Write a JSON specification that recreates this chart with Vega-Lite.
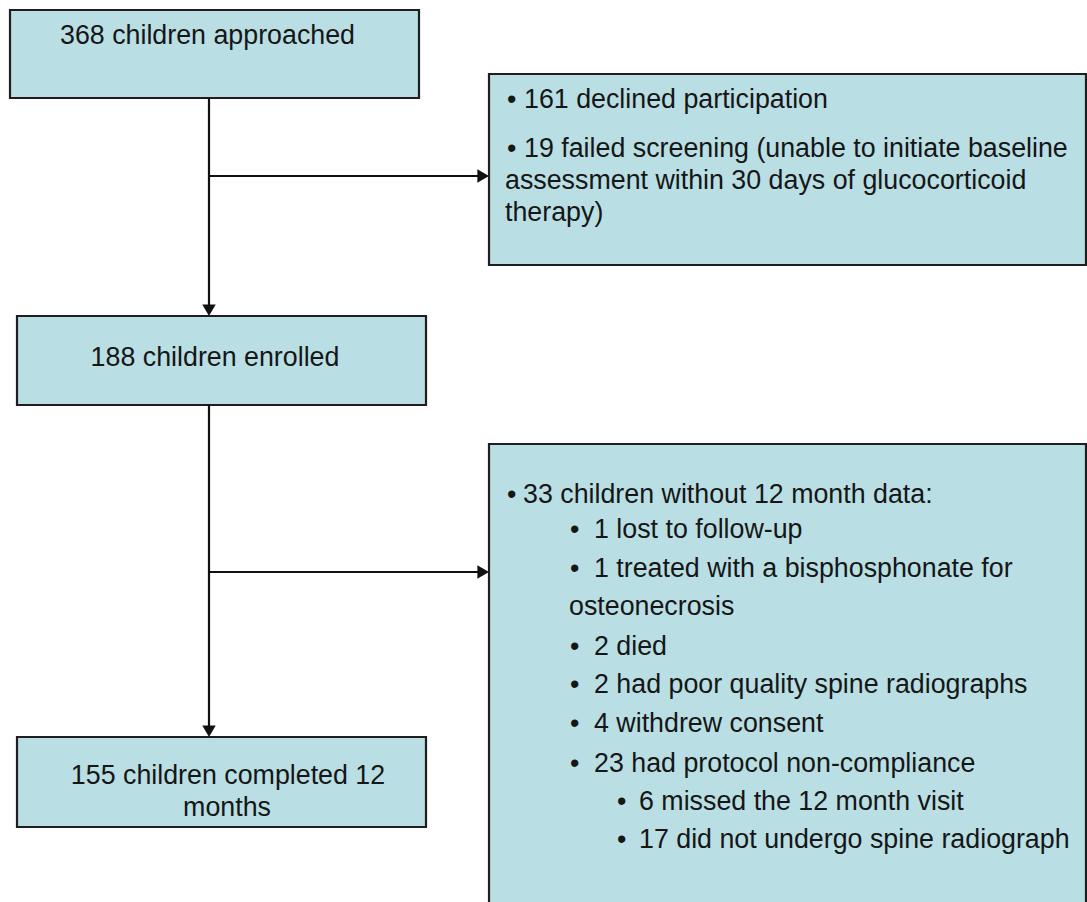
{
  "$schema": "https://vega.github.io/schema/vega-lite/v6.json",
  "width": 1087,
  "height": 902,
  "padding": 0,
  "autosize": {"type": "none"},
  "background": "white",
  "config": {
    "view": {"stroke": null},
    "text": {"font": "Liberation Sans", "fontSize": 26.8, "color": "#161616", "baseline": "alphabetic"}
  },
  "datasets": {
    "boxes": [
      {"id": "approached", "x0": 10, "x1": 419, "y0": 10, "y1": 98},
      {"id": "excluded", "x0": 489, "x1": 1086, "y0": 74, "y1": 265},
      {"id": "enrolled", "x0": 17, "x1": 426, "y0": 316, "y1": 405},
      {"id": "missing", "x0": 489, "x1": 1086, "y0": 444, "y1": 910},
      {"id": "completed", "x0": 17, "x1": 426, "y0": 737, "y1": 827}
    ],
    "connectors": [
      {"x0": 209, "y0": 98, "x1": 209, "y1": 307},
      {"x0": 209, "y0": 176, "x1": 480, "y1": 176},
      {"x0": 209, "y0": 405, "x1": 209, "y1": 728},
      {"x0": 209, "y0": 572, "x1": 480, "y1": 572}
    ],
    "arrows": [
      {"x": 209, "y": 310.2, "dir": "down"},
      {"x": 483.2, "y": 176, "dir": "right"},
      {"x": 209, "y": 731.2, "dir": "down"},
      {"x": 483.2, "y": 572, "dir": "right"}
    ],
    "labels": [
      {"role": "title", "x": 207.5, "y": 44, "text": "368 children approached"},
      {"role": "title", "x": 215, "y": 366, "text": "188 children enrolled"},
      {"role": "title", "x": 228, "y": 784, "text": "155 children completed 12"},
      {"role": "title", "x": 227, "y": 816, "text": "months"},
      {"role": "item", "x": 507, "y": 108, "text": "•"},
      {"role": "item", "x": 524, "y": 108, "text": "161 declined participation"},
      {"role": "item", "x": 507, "y": 157, "text": "•"},
      {"role": "item", "x": 524, "y": 157, "text": "19 failed screening (unable to initiate baseline"},
      {"role": "item", "x": 505, "y": 189, "text": "assessment within 30 days of glucocorticoid"},
      {"role": "item", "x": 505, "y": 221, "text": "therapy)"},
      {"role": "item", "x": 507, "y": 503, "text": "•"},
      {"role": "item", "x": 523, "y": 503, "text": "33 children without 12 month data:"},
      {"role": "item", "x": 570, "y": 538, "text": "•"},
      {"role": "item", "x": 594, "y": 538, "text": "1 lost to follow-up"},
      {"role": "item", "x": 570, "y": 577, "text": "•"},
      {"role": "item", "x": 594, "y": 577, "text": "1 treated with a bisphosphonate for"},
      {"role": "item", "x": 569, "y": 615, "text": "osteonecrosis"},
      {"role": "item", "x": 570, "y": 655, "text": "•"},
      {"role": "item", "x": 594, "y": 655, "text": "2 died"},
      {"role": "item", "x": 570, "y": 693, "text": "•"},
      {"role": "item", "x": 594, "y": 693, "text": "2 had poor quality spine radiographs"},
      {"role": "item", "x": 570, "y": 732, "text": "•"},
      {"role": "item", "x": 594, "y": 732, "text": "4 withdrew consent"},
      {"role": "item", "x": 570, "y": 772, "text": "•"},
      {"role": "item", "x": 594, "y": 772, "text": "23 had protocol non-compliance"},
      {"role": "item", "x": 617, "y": 810, "text": "•"},
      {"role": "item", "x": 639, "y": 810, "text": "6 missed the 12 month visit"},
      {"role": "item", "x": 617, "y": 848, "text": "•"},
      {"role": "item", "x": 639, "y": 848, "text": "17 did not undergo spine radiograph"}
    ]
  },
  "layer": [
    {
      "data": {"name": "boxes"},
      "mark": {"type": "rect", "fill": "#B9DFE4", "stroke": "#1e1e1e", "strokeWidth": 2.2},
      "encoding": {
        "x": {"field": "x0", "type": "quantitative", "scale": {"domain": [0, 1087], "nice": false, "zero": false}, "axis": null},
        "x2": {"field": "x1"},
        "y": {"field": "y0", "type": "quantitative", "scale": {"domain": [0, 902], "nice": false, "zero": false, "reverse": true}, "axis": null},
        "y2": {"field": "y1"}
      }
    },
    {
      "data": {"name": "connectors"},
      "mark": {"type": "rule", "color": "#111111", "strokeWidth": 2.2},
      "encoding": {
        "x": {"field": "x0", "type": "quantitative"},
        "x2": {"field": "x1"},
        "y": {"field": "y0", "type": "quantitative"},
        "y2": {"field": "y1"}
      }
    },
    {
      "data": {"name": "arrows"},
      "mark": {"type": "point", "filled": true, "color": "#111111", "opacity": 1, "size": 180, "strokeWidth": 0},
      "encoding": {
        "x": {"field": "x", "type": "quantitative"},
        "y": {"field": "y", "type": "quantitative"},
        "shape": {"field": "dir", "type": "nominal", "scale": {"domain": ["down", "right"], "range": ["triangle-down", "triangle-right"]}, "legend": null}
      }
    },
    {
      "data": {"name": "labels"},
      "transform": [{"filter": "datum.role === 'title'"}],
      "mark": {"type": "text", "align": "center"},
      "encoding": {
        "x": {"field": "x", "type": "quantitative"},
        "y": {"field": "y", "type": "quantitative"},
        "text": {"field": "text"}
      }
    },
    {
      "data": {"name": "labels"},
      "transform": [{"filter": "datum.role === 'item'"}],
      "mark": {"type": "text", "align": "left"},
      "encoding": {
        "x": {"field": "x", "type": "quantitative"},
        "y": {"field": "y", "type": "quantitative"},
        "text": {"field": "text"}
      }
    }
  ]
}
